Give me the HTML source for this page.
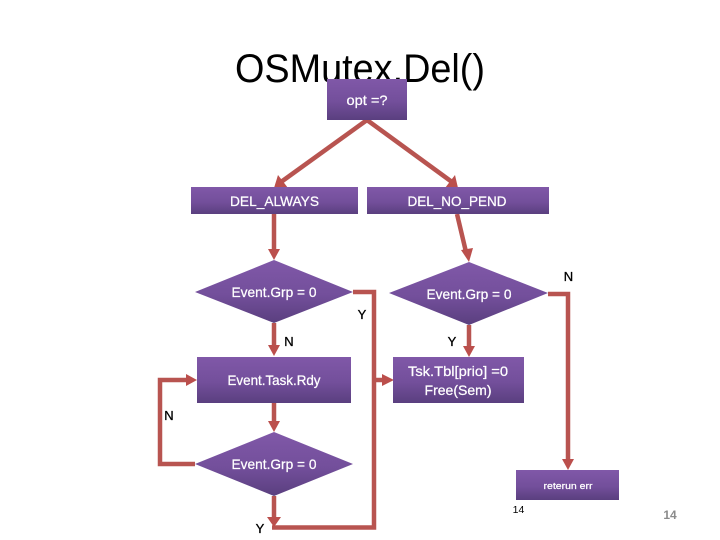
<!DOCTYPE html>
<html>
<head>
<meta charset="utf-8">
<style>
html,body{margin:0;padding:0;background:#fff;width:720px;height:540px;overflow:hidden}
svg{display:block}
text{font-family:"Liberation Sans",sans-serif}
.w{fill:#fff;stroke:#fff;stroke-width:.25;font-size:14px;text-anchor:middle}
.k{fill:#000;stroke:#000;stroke-width:.3;font-size:13px;text-anchor:middle}
.l{fill:none;stroke:#b85450;stroke-width:4.500}
.a{fill:#bb4f4c}
</style>
</head>
<body>
<svg width="720" height="540" viewBox="0 0 720 540" xmlns="http://www.w3.org/2000/svg">
<defs>
<linearGradient id="g" x1="0" y1="0" x2="0" y2="1">
<stop offset="0" stop-color="#8058a8"/>
<stop offset="0.55" stop-color="#734f9b"/>
<stop offset="1" stop-color="#5a3f7f"/>
</linearGradient>
</defs>

<text x="235" y="82" font-size="40" fill="#000" textLength="250" lengthAdjust="spacingAndGlyphs">OSMutex.Del()</text>

<!-- connectors -->
<path class="l" d="M367 120L281 182"/>
<path class="a" d="M274 188L278 175L288 188Z"/>
<path class="l" d="M367 120L452 182"/>
<path class="a" d="M458 188L445 188L455 175Z"/>
<path class="l" d="M274 214V250"/>
<path class="a" d="M274 260L268 249H280Z"/>
<path class="l" d="M457 214L466 252"/>
<path class="a" d="M469 262L461 250L473 248Z"/>
<path class="l" d="M274 323V347"/>
<path class="a" d="M274 356L268 345H280Z"/>
<path class="l" d="M469 325V347"/>
<path class="a" d="M469 357L463 346H475Z"/>
<path class="l" d="M353 292H374V527.500H272"/>
<path class="l" d="M374 380H384"/>
<path class="a" d="M394 380L382 374V386Z"/>
<path class="l" d="M548 294H568V460"/>
<path class="a" d="M568 470L562 459H574Z"/>
<path class="l" d="M274 403V422"/>
<path class="a" d="M274 432L268 421H280Z"/>
<path class="l" d="M195 464H160V380H187"/>
<path class="a" d="M197 380L186 374V386Z"/>
<path class="l" d="M274 496V518"/>
<path class="a" d="M274 527L267 517H281Z"/>

<!-- boxes -->
<rect x="327" y="79" width="80" height="41" fill="url(#g)"/>
<rect x="191" y="187" width="167" height="27" fill="url(#g)"/>
<rect x="367" y="187" width="182" height="27" fill="url(#g)"/>
<polygon points="195,292 274,260 353,292 274,323" fill="url(#g)"/>
<polygon points="389,293 469,262 548,293 469,325" fill="url(#g)"/>
<rect x="197" y="357" width="154" height="46" fill="url(#g)"/>
<rect x="393" y="357" width="131" height="46" fill="url(#g)"/>
<polygon points="195,464 274,432 353,464 274,496" fill="url(#g)"/>
<rect x="516" y="470" width="103" height="30" fill="url(#g)"/>

<!-- box labels -->
<text class="w" x="367" y="105" textLength="41" lengthAdjust="spacingAndGlyphs">opt =?</text>
<text class="w" x="274.500" y="206" textLength="89" lengthAdjust="spacingAndGlyphs">DEL_ALWAYS</text>
<text class="w" x="457" y="206" textLength="99" lengthAdjust="spacingAndGlyphs">DEL_NO_PEND</text>
<text class="w" x="274" y="297" textLength="85" lengthAdjust="spacingAndGlyphs">Event.Grp = 0</text>
<text class="w" x="469" y="299" textLength="85" lengthAdjust="spacingAndGlyphs">Event.Grp = 0</text>
<text class="w" x="274" y="385" textLength="93" lengthAdjust="spacingAndGlyphs">Event.Task.Rdy</text>
<text class="w" x="458" y="376" textLength="100" lengthAdjust="spacingAndGlyphs">Tsk.Tbl[prio] =0</text>
<text class="w" x="458" y="395" textLength="67" lengthAdjust="spacingAndGlyphs">Free(Sem)</text>
<text class="w" x="274" y="469" textLength="85" lengthAdjust="spacingAndGlyphs">Event.Grp = 0</text>
<text class="w" x="568" y="489" style="font-size:9.500px" textLength="49" lengthAdjust="spacingAndGlyphs">reterun err</text>

<!-- connector labels -->
<text class="k" x="568.500" y="281">N</text>
<text class="k" x="362" y="319">Y</text>
<text class="k" x="289" y="346">N</text>
<text class="k" x="452" y="346">Y</text>
<text class="k" x="169" y="420">N</text>
<text class="k" x="260" y="533">Y</text>
<text x="518.500" y="513" fill="#000" font-size="10.500" text-anchor="middle">14</text>
<text x="670" y="519" fill="#8b8b8b" font-size="12" font-weight="bold" text-anchor="middle">14</text>
</svg>
</body>
</html>
